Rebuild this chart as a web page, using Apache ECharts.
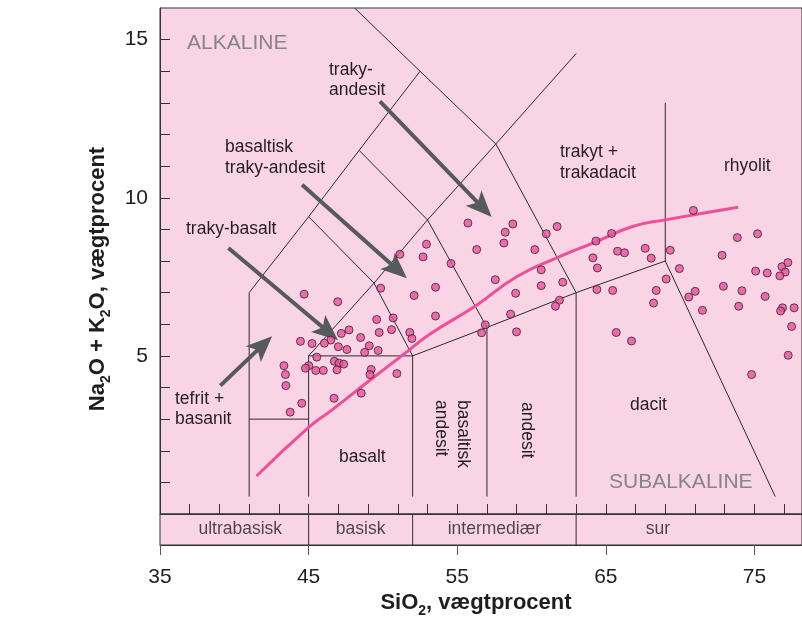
<!DOCTYPE html>
<html><head><meta charset="utf-8">
<script src="https://cdn.jsdelivr.net/npm/echarts@6/dist/echarts.min.js"></script>
<style>html,body{margin:0;padding:0;background:#fff}#c{width:802px;height:621px}</style>
</head><body><div id="c"></div>
<script>
// ---------- data ----------
const sampleSiO2 = [44.70,46.96,49.85,52.10,49.58,50.69,47.72,47.20,46.49,46.06,45.23,44.45,48.50,49.75,50.58,51.81,51.95,47.00,47.58,49.08,48.77,49.68,45.55,43.34,45.01,44.79,46.73,47.05,47.36,45.48,45.99,46.91,49.21,49.13,50.94,43.44,43.47,46.71,48.54,44.54,43.76,
55.72,58.74,58.23,61.72,60.99,58.14,56.31,60.22,52.93,52.70,51.14,54.58,53.54,53.54,57.56,58.93,60.65,60.65,62.10,61.88,61.61,58.59,56.89,56.64,58.99,64.33,64.13,64.43,64.40,
70.89,65.39,65.79,66.26,67.65,68.05,69.33,69.95,69.06,68.39,68.21,65.46,65.70,66.73,71.01,70.58,71.50,73.85,75.21,72.82,75.08,75.86,76.85,77.25,77.07,76.71,72.91,74.16,75.72,73.94,76.89,76.76,77.67,77.50,77.27,74.81];
const sampleAlkali = [6.95,6.71,7.14,6.91,6.15,6.20,5.82,5.71,5.50,5.40,5.39,5.46,5.58,5.74,5.83,5.74,5.55,5.29,5.20,5.32,5.11,5.17,4.96,4.69,4.69,4.61,4.83,4.77,4.74,4.54,4.54,4.56,4.57,4.41,4.44,4.41,4.06,3.66,3.82,3.50,3.22,
9.20,9.17,8.91,9.09,8.86,8.57,8.36,8.36,8.53,8.13,8.21,7.92,7.17,6.26,7.41,6.98,7.72,7.22,7.33,6.76,6.57,6.32,5.98,5.73,5.76,8.63,8.10,7.78,7.10,
9.60,8.87,8.31,8.26,8.40,8.09,8.34,7.76,7.43,7.07,6.67,7.07,5.74,5.47,7.04,6.86,6.44,8.74,8.86,8.18,7.68,7.62,7.82,7.95,7.65,7.53,7.20,7.06,6.88,6.57,6.52,6.42,6.52,5.93,5.02,4.41];

// alkaline / subalkaline dividing curve
const dividerSiO2 = [41.5,45.0,46.6,49.1,51.4,53.2,56.2,59.0,61.7,64.3,66.8,69.0,73.9];
const dividerAlkali = [1.2,2.74,3.3,4.22,5.05,5.7,6.57,7.5,8.1,8.6,9.09,9.3,9.7];

// TAS field boundaries (SiO2, Na2O+K2O)
const boundaryTefrit = [[41,0.55],[41,7],[45,9.4],[48.4,11.5],[52.5,14]];
const boundaryPhonolite = [[48.1,16],[52.5,14],[57.6,11.7],[63,7],[63,0.55]];
const boundaryTrakybasalt = [[45,9.4],[49.4,7.3],[52,5],[52,0.55]];
const boundaryBasTrakyandesit = [[48.4,11.5],[53,9.3],[57,5.9],[57,0.55]];
const boundaryAlkDiagonal = [[45,0.55],[45,5],[49.4,7.3],[53,9.3],[57.6,11.7],[63,14.56]];
const boundaryPicro = [[41,3],[45,3]];
const boundarySubalk = [[45,5],[52,5],[57,5.9],[63,7],[69,8],[76.4,0.55]];
const boundaryRhyolit = [[69,8],[69,13]];

// annotation arrows: [start, arrow-head centre]
const arrowLines = [
  [[49.80,13.05],[56.71,9.69]],
  [[44.56,10.41],[50.96,7.73]],
  [[39.60,8.41],[46.31,5.76]],
  [[39.06,4.06],[41.91,5.34]]
];

// SiO2 band
const bandNames = ['ultrabasisk','basisk','intermediær','sur'];
const bandCenters = [40.4,48.5,57.5,68.5];
const bandEdges = [45,52,63];

// ticks
const xMinorTicks = [35,37,39,41,43,45,47,49,51,53,55,57,59,61,63,65,67,69,71,73,75,77];
const xMajorTicks = [35,45,55,65,75];
const yMinorTicks = [1,2,3,4,5,6,7,8,9,10,11,12,13,14,15];
const yLabelTicks = [5,10,15];

// ---------- chart ----------
const FONT = '"Liberation Sans", Arial, Helvetica, sans-serif';
const TXT = '#231f20';
const PINK_BG = '#f9d4e4';
const X_MAX = 78.2;
const ARROW_HEAD = 'path://M0,0 L11,26 L0,20 L-11,26 Z';

function boundary(pts){
  return {type:'line', xAxisIndex:0, yAxisIndex:0, data:pts, symbol:'none', silent:true,
    lineStyle:{color:'#2b2b2b', width:1}, z:2, animation:false};
}

const series = [
  boundary(boundaryTefrit), boundary(boundaryPhonolite), boundary(boundaryTrakybasalt),
  boundary(boundaryBasTrakyandesit), boundary(boundaryAlkDiagonal), boundary(boundaryPicro),
  boundary(boundarySubalk), boundary(boundaryRhyolit),
  {type:'line', xAxisIndex:0, yAxisIndex:0, smooth:true, symbol:'none', silent:true,
   data: dividerSiO2.map((x,i)=>[x, dividerAlkali[i]]),
   lineStyle:{color:'#ef4f98', width:3}, z:3,
   markLine:{silent:true, symbol:['none',ARROW_HEAD], symbolSize:[22,26], animation:false,
     lineStyle:{color:'#565a5a', width:4, type:'solid'}, label:{show:false},
     itemStyle:{color:'#565a5a'},
     emphasis:{disabled:true},
     data: arrowLines.map(a=>[{coord:a[0]},{coord:a[1]}])}},
  {type:'scatter', xAxisIndex:0, yAxisIndex:0, silent:true, symbol:'circle', symbolSize:8,
   data: sampleSiO2.map((x,i)=>[x, sampleAlkali[i]]),
   itemStyle:{color:'#e8509a', borderColor:'#3b2030', borderWidth:1}, z:5}
];
bandEdges.forEach(x=>{
  series.push({type:'line', xAxisIndex:1, yAxisIndex:1, data:[[x,0],[x,1]], symbol:'none', silent:true,
    lineStyle:{color:'#333', width:1}});
});
series.push({type:'scatter', xAxisIndex:1, yAxisIndex:1, silent:true, symbolSize:1,
  itemStyle:{color:'rgba(0,0,0,0)'},
  data: bandCenters.map((x,i)=>[x,0.5,bandNames[i]]),
  label:{show:true, position:'inside', formatter:p=>p.value[2], fontSize:17.5, fontFamily:FONT, color:TXT}});

function txt(x, y, text, opts){
  return Object.assign({type:'text', x:x, y:y, silent:true, z:10,
    style:Object.assign({text:text, fontSize:17.5, fontFamily:FONT, fill:TXT, align:'left', verticalAlign:'middle', lineHeight:21}, opts||{})});
}

const graphics = [
  txt(187, 43, 'ALKALINE', {fontSize:21, fill:'#858585'}),
  txt(609, 482, 'SUBALKALINE', {fontSize:21, fill:'#858585'}),
  txt(329, 80, 'traky-\nandesit', {lineHeight:20}),
  txt(225, 157.5, 'basaltisk\ntraky-andesit'),
  txt(186, 229, 'traky-basalt'),
  txt(175, 409, 'tefrit +\nbasanit', {lineHeight:20}),
  txt(339, 457, 'basalt'),
  txt(630, 405, 'dacit'),
  txt(560, 162.5, 'trakyt +\ntrakadacit'),
  txt(724, 166, 'rhyolit'),
  Object.assign(txt(452, 400, 'basaltisk\nandesit', {lineHeight:22}), {rotation:-Math.PI/2}),
  Object.assign(txt(527, 402, 'andesit'), {rotation:-Math.PI/2}),
  {type:'text', x:98, y:279, rotation:Math.PI/2, silent:true, z:10,
   style:{text:'{b|Na}{s|2}{b|O + K}{s|2}{b|O, vægtprocent}', align:'center', verticalAlign:'middle',
     rich:{b:{fontSize:22, fontWeight:'bold', fontFamily:FONT, fill:'#1e1e1e', lineHeight:30},
           s:{fontSize:14, fontWeight:'bold', fontFamily:FONT, fill:'#1e1e1e', lineHeight:14, verticalAlign:'bottom'}}}},
  {type:'text', x:476, y:603, silent:true, z:10,
   style:{text:'{b|SiO}{s|2}{b|, vægtprocent}', align:'center', verticalAlign:'middle',
     rich:{b:{fontSize:22, fontWeight:'bold', fontFamily:FONT, fill:'#1e1e1e', lineHeight:30},
           s:{fontSize:14, fontWeight:'bold', fontFamily:FONT, fill:'#1e1e1e', lineHeight:14, verticalAlign:'bottom'}}}}
];

const option = {
  animation:false,
  backgroundColor:'#ffffff',
  grid:[
    {left:160, top:8, right:-2, height:506, show:true, backgroundColor:PINK_BG, borderColor:'#333', borderWidth:1},
    {left:160, top:514, right:-2, height:31, show:true, backgroundColor:PINK_BG, borderColor:'#333', borderWidth:1}
  ],
  xAxis:[
    {gridIndex:0, type:'value', min:35, max:X_MAX,
     axisLine:{show:true, lineStyle:{color:'#333'}},
     axisTick:{show:true, inside:true, length:10, customValues:xMinorTicks, lineStyle:{color:'#333'}},
     axisLabel:{show:false}, splitLine:{show:false}},
    {gridIndex:1, type:'value', min:35, max:X_MAX,
     axisLine:{show:true, lineStyle:{color:'#333'}},
     axisTick:{show:true, inside:false, length:10, customValues:xMajorTicks, lineStyle:{color:'#555'}},
     axisLabel:{show:true, customValues:xMajorTicks, margin:22, fontSize:21, fontFamily:FONT, color:'#1e1e1e'},
     splitLine:{show:false}}
  ],
  yAxis:[
    {gridIndex:0, type:'value', min:0, max:16,
     axisLine:{show:true, lineStyle:{color:'#333'}},
     axisTick:{show:true, inside:true, length:10, customValues:yMinorTicks, lineStyle:{color:'#333'}},
     axisLabel:{show:true, customValues:yLabelTicks, margin:12, fontSize:21, fontFamily:FONT, color:'#1e1e1e'},
     splitLine:{show:false}},
    {gridIndex:1, type:'value', min:0, max:1, show:false}
  ],
  series:series,
  graphic:graphics
};
const chart = echarts.init(document.getElementById('c'));
chart.setOption(option);
</script>
</body></html>
